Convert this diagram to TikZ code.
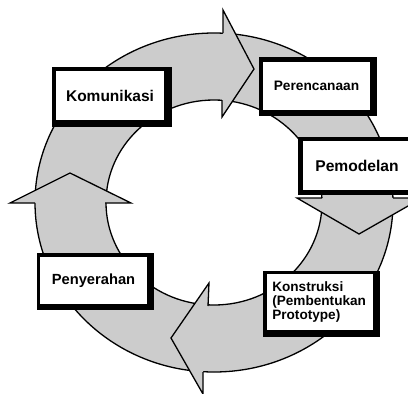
\documentclass[tikz,border=0pt]{standalone}
\usepackage{fontspec}
\setmainfont{Liberation Sans}
\begin{document}
\begin{tikzpicture}[x=1bp,y=-1bp,
  ring/.style={fill=black!20, draw=black, line width=1.3bp, even odd rule},
  headfill/.style={fill=black!20},
  headline/.style={draw=black, line width=1.3bp, line join=miter},
  frame/.style={fill=black},
  boxin/.style={fill=white, inner sep=0pt, align=center}]
\useasboundingbox (0,0) rectangle (408,394);
\clip (0,0) rectangle (408,394);
% ring
\path[ring] (214,202.5) ellipse [x radius=179bp, y radius=169.5bp]
            (214,202.5) ellipse [x radius=108bp, y radius=102.5bp];
% top arrowhead
\fill[headfill] (223,33) -- (223,10) -- (254,69) -- (222,117) -- (222,100) -- cycle;
\draw[headline] (223,33) -- (223,10) -- (254,69) -- (222,117) -- (222,100);
% right arrowhead
\fill[headfill] (322,198) -- (297,198) -- (359,234) -- (422,198) -- (393,198) -- cycle;
\draw[headline] (322,198) -- (297,198) -- (359,234) -- (422,198) -- (393,198);
% bottom arrowhead
\fill[headfill] (208,306) -- (209,283) -- (171,338) -- (203,394) -- (203,372) -- cycle;
\draw[headline] (208,306) -- (209,283) -- (171,338) -- (203,394) -- (203,372);
% left arrowhead
\fill[headfill] (35,203) -- (10,203) -- (70,173) -- (131,203) -- (105,203) -- cycle;
\draw[headline] (35,203) -- (10,203) -- (70,173) -- (131,203) -- (105,203);
% boxes
\fill[frame] (52,67) rectangle (172,127);
\node[boxin, minimum width=108bp, minimum height=49bp,
      font=\bfseries\fontsize{15.5bp}{18bp}\selectfont] (kom) at (110,95.5) {Komunikasi};
\fill[frame] (259,57) rectangle (377,116);
\node[boxin, minimum width=107bp, minimum height=48bp,
      font=\bfseries\fontsize{13.7bp}{16bp}\selectfont] (per) at (316.5,86) {Perencanaan};
\fill[frame] (298,137) rectangle (414,195);
\node[boxin, minimum width=108bp, minimum height=49bp,
      font=\bfseries\fontsize{15.6bp}{18bp}\selectfont] (pem) at (357,165.5) {Pemodelan};
\fill[frame] (263,271) rectangle (380,337);
\node[boxin, align=left, inner xsep=5.3bp, text width=95.4bp, minimum height=56bp,
      font=\bfseries\fontsize{13.6bp}{14.2bp}\selectfont] (kon) at (320,302)
      {Konstruksi\\(Pembentukan\\Prototype)};
\fill[frame] (37,253) rectangle (154,310);
\node[boxin, minimum width=107bp, minimum height=47bp,
      font=\bfseries\fontsize{14.7bp}{17bp}\selectfont] (pen) at (93.5,280.5) {Penyerahan};
\end{tikzpicture}
\end{document}
